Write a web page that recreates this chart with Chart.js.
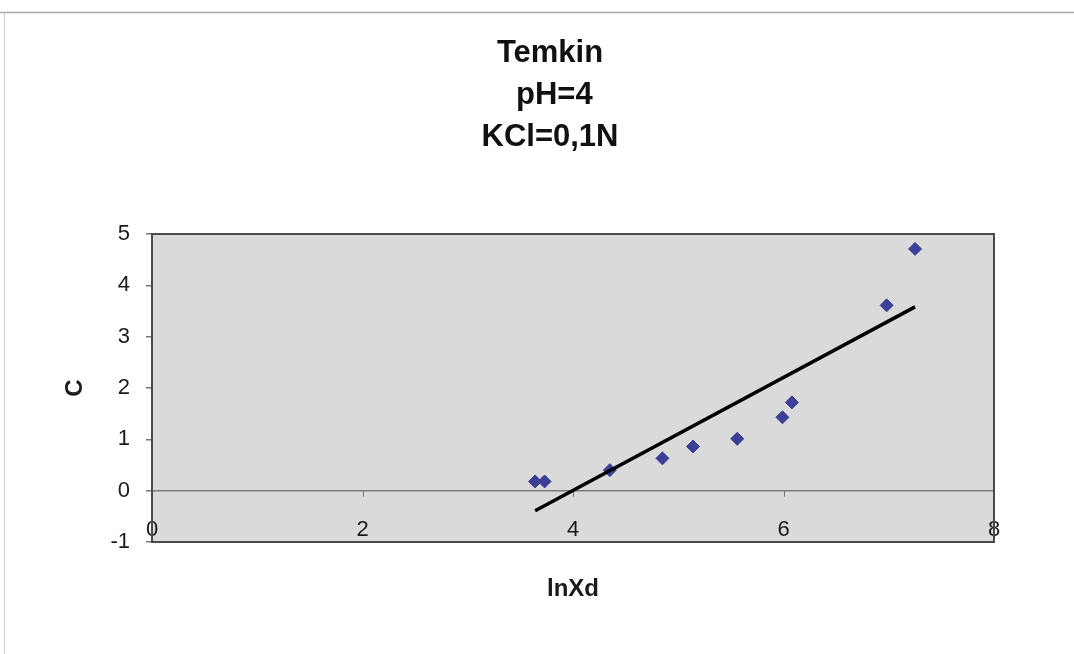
<!DOCTYPE html>
<html>
<head>
<meta charset="utf-8">
<script src="https://cdn.jsdelivr.net/npm/chart.js@4/dist/chart.umd.min.js"></script>
<style>
html,body{margin:0;padding:0;background:#ffffff;}
#wrap{width:1074px;height:654px;position:relative;}
</style>
</head>
<body>
<div id="wrap"><canvas id="c" width="1074" height="654"></canvas></div>
<script>
// ---- data ----
const titleLines = ['Temkin', ' pH=4', 'KCl=0,1N'];
const xAxisTitle = 'lnXd';
const yAxisTitle = 'C';
const lnXd = [3.64, 3.73, 4.35, 4.85, 5.14, 5.56, 5.99, 6.08, 6.98, 7.25];
const cValues = [0.18, 0.18, 0.40, 0.63, 0.86, 1.01, 1.43, 1.72, 3.61, 4.71];
const trendX = [3.64, 7.25];
const trendY = [-0.39, 3.58];
const xTicks = [0, 2, 4, 6, 8];
const yTicks = [-1, 0, 1, 2, 3, 4, 5];

const FONT = "'Liberation Sans', Arial, Helvetica, sans-serif";

const pointData = lnXd.map((x, i) => ({x: x, y: cValues[i]}));
const trendData = trendX.map((x, i) => ({x: x, y: trendY[i]}));

const frame = {
  id: 'frame',
  beforeDraw(chart) {
    const {ctx, chartArea: a} = chart;
    ctx.save();
    ctx.fillStyle = '#ffffff';
    ctx.fillRect(0, 0, chart.width, chart.height);
    // outer chart border (top and left)
    ctx.strokeStyle = '#a8a8a8';
    ctx.lineWidth = 1.5;
    ctx.beginPath();
    ctx.moveTo(0, 12.5); ctx.lineTo(1074, 12.5);
    ctx.stroke();
    ctx.strokeStyle = '#d0d0d0';
    ctx.lineWidth = 1;
    ctx.beginPath();
    ctx.moveTo(4.5, 13); ctx.lineTo(4.5, 654);
    ctx.stroke();
    // plot area
    ctx.fillStyle = '#dadada';
    ctx.fillRect(a.left, a.top, a.right - a.left, a.bottom - a.top);
    ctx.restore();
  },
  beforeDatasetsDraw(chart) {
    const {ctx, scales: {x, y}} = chart;
    const y0 = y.getPixelForValue(0);
    ctx.save();
    ctx.strokeStyle = '#777777';
    ctx.lineWidth = 1;
    xTicks.forEach(v => {
      const px = Math.round(x.getPixelForValue(v)) + 0.5;
      ctx.beginPath();
      ctx.moveTo(px, y0);
      ctx.lineTo(px, y0 + 6);
      ctx.stroke();
    });
    ctx.restore();
  },
  afterDraw(chart) {
    const {ctx, chartArea: a} = chart;
    ctx.save();
    ctx.strokeStyle = '#4a4a4a';
    ctx.lineWidth = 2;
    ctx.strokeRect(a.left, a.top, a.right - a.left, a.bottom - a.top);
    ctx.restore();
  }
};

new Chart(document.getElementById('c'), {
  type: 'scatter',
  data: {
    datasets: [
      {
        label: 'trend',
        data: trendData,
        showLine: true,
        borderColor: '#000000',
        borderWidth: 3.5,
        pointRadius: 0,
        fill: false,
        order: 0
      },
      {
        label: 'C',
        data: pointData,
        pointStyle: 'rectRot',
        pointRadius: 6.5,
        backgroundColor: '#3b3f97',
        borderColor: '#3b3f97',
        borderWidth: 1,
        order: 1
      }
    ]
  },
  options: {
    responsive: false,
    animation: false,
    devicePixelRatio: 1,
    events: [],
    layout: {padding: {left: 106, right: 80, top: 0, bottom: 52}},
    plugins: {
      legend: {display: false},
      tooltip: {enabled: false},
      title: {
        display: true,
        text: titleLines,
        color: '#111111',
        font: {family: FONT, size: 31, weight: 'bold', lineHeight: 1.355},
        padding: {top: 32, bottom: 76}
      }
    },
    scales: {
      x: {
        type: 'linear',
        position: 'bottom',
        min: 0, max: 8,
        afterBuildTicks(scale) { scale.ticks = xTicks.map(v => ({value: v})); },
        afterFit(scale) { scale.height = 60; },
        grid: {display: false},
        border: {display: false},
        ticks: {
          mirror: true,
          padding: -1,
          color: '#1a1a1a',
          font: {family: FONT, size: 22},
          maxRotation: 0
        },
        title: {
          display: true,
          text: xAxisTitle,
          color: '#1a1a1a',
          font: {family: FONT, size: 24, weight: 'bold', lineHeight: 1.2},
          padding: {top: 0, bottom: -2}
        }
      },
      y: {
        type: 'linear',
        min: -1, max: 5,
        afterBuildTicks(scale) { scale.ticks = yTicks.map(v => ({value: v})); },
        afterFit(scale) { scale.width = 46; },
        grid: {
          drawTicks: true,
          tickLength: 6,
          tickColor: '#777777',
          color: ctx => (ctx.tick && ctx.tick.value === 0) ? '#7a7a7a' : 'rgba(0,0,0,0)',
          lineWidth: 1.5
        },
        border: {display: false},
        ticks: {
          padding: 16,
          color: '#1a1a1a',
          font: {family: FONT, size: 22}
        },
        title: {
          display: true,
          text: yAxisTitle,
          color: '#1a1a1a',
          font: {family: FONT, size: 24, weight: 'bold', lineHeight: 1.2},
          padding: {top: -45, bottom: 0}
        }
      }
    }
  },
  plugins: [frame]
});
</script>
</body>
</html>
